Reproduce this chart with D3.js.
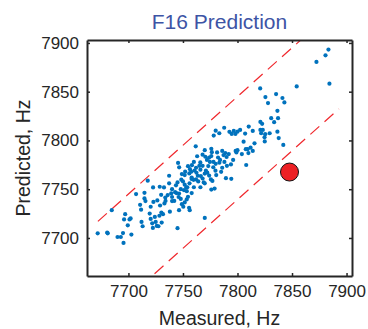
<!DOCTYPE html>
<html>
<head>
<meta charset="utf-8">
<script src="https://cdn.jsdelivr.net/npm/d3@7"></script>
<style>
  html, body { margin: 0; padding: 0; background: #fff; }
  svg { display: block; font-family: "Liberation Sans", Arial, sans-serif; }
</style>
</head>
<body>
<svg id="chart" width="368" height="329"></svg>
<script>
// Measured vs predicted frequency (Hz)
const measured = [
  7671.8, 7680.5, 7681, 7684.7, 7690, 7693, 7695.5, 7695, 7696, 7697,
  7699.4, 7701, 7702, 7702.7, 7707, 7710.7, 7711.6, 7712, 7713, 7714.7,
  7715.6, 7714.7, 7717.7, 7719.5, 7720.4, 7720.4, 7721.8, 7722.4, 7722.6, 7722.9,
  7724.2, 7725, 7726, 7727.5, 7728.4, 7728.7, 7730, 7726.5, 7729, 7730.2,
  7731.7, 7730.5, 7732.6, 7733.8, 7733, 7737.3, 7739.2, 7737.3, 7738, 7740,
  7740, 7742.8, 7743.6, 7745, 7746.4, 7746.4, 7748, 7745.5, 7746.5, 7745,
  7749, 7750.3, 7751.6, 7749, 7751.6, 7748.5, 7751.6, 7753, 7751, 7753.5,
  7755.6, 7756.2, 7753.4, 7754.6, 7754.6, 7756.4, 7758.2, 7757.9, 7759.7, 7755.8,
  7757.6, 7760.6, 7762.4, 7763.6, 7761.7, 7763, 7765.9, 7765, 7766.4, 7768,
  7769, 7770, 7768, 7770.5, 7771, 7772.3, 7773.2, 7774.7, 7774, 7775.6,
  7777, 7776, 7776.5, 7777.8, 7779.8, 7780.5, 7779, 7776, 7781.3, 7782.2,
  7783.4, 7785, 7786, 7787.2, 7788.8, 7789.4, 7794.3, 7790.3, 7794, 7798.3,
  7799, 7805.6, 7808, 7809.2, 7810, 7814, 7842, 7778.2, 7780, 7783.3,
  7787.8, 7792.6, 7794.7, 7796.6, 7798.1, 7800, 7802.4, 7807, 7810.3, 7814,
  7821, 7821.7, 7823.2, 7825.4, 7824.8, 7821, 7822.6, 7820.8, 7825.6, 7828,
  7830.9, 7833.6, 7835.4, 7837.2, 7836.6, 7836.6, 7841.2, 7843, 7854.3, 7872.4,
  7880.7, 7883.4, 7884.3, 7829.5, 7837.8, 7812, 7815.6, 7825, 7807.6, 7752,
  7758, 7762, 7766, 7770, 7774, 7778, 7780, 7784, 7788, 7790,
  7756, 7760, 7764, 7768, 7772, 7776, 7760, 7748, 7744, 7740,
  7736, 7734, 7742, 7746, 7750, 7754, 7758, 7762, 7766, 7770,
  7786, 7792, 7796, 7800, 7804, 7770
];
const predicted = [
  7704.8, 7705.5, 7704.8, 7728.5, 7701, 7701, 7694.9, 7705, 7719, 7724.4,
  7713, 7719, 7720, 7703.5, 7745, 7734, 7729, 7716.5, 7712, 7740.5,
  7737.8, 7746.3, 7758.7, 7725, 7719.5, 7732, 7715, 7710.3, 7751.8, 7737,
  7721.6, 7716.5, 7712.3, 7712, 7722.8, 7752.5, 7744.2, 7738.5, 7733.3, 7726,
  7724.4, 7715.8, 7751.8, 7741.5, 7735.4, 7756, 7745.7, 7763.8, 7727, 7742,
  7737.8, 7747, 7754, 7757, 7745.6, 7728.5, 7740, 7776.9, 7772.4, 7710,
  7734.7, 7732, 7736.4, 7765.5, 7764.5, 7759.8, 7754.6, 7752, 7749, 7748,
  7731, 7728.5, 7739.5, 7742.2, 7773.6, 7770.5, 7774.6, 7760.5, 7759.6, 7766.2,
  7767.9, 7769.1, 7766.9, 7763.8, 7794, 7783.8, 7777.5, 7774, 7763.5, 7761,
  7757, 7720.6, 7785.4, 7783.3, 7769, 7767, 7773.7, 7778, 7782.4, 7760,
  7758.5, 7791.4, 7788, 7772.5, 7769, 7764.5, 7750.6, 7749.6, 7787.7, 7782.5,
  7777.2, 7767.8, 7789.3, 7785, 7787, 7761.3, 7760.6, 7774, 7775.4, 7789.3,
  7787.7, 7798.7, 7774.8, 7791, 7787, 7789.3, 7795.4, 7805, 7810, 7807.4,
  7813, 7808.8, 7806.7, 7809.8, 7806.7, 7809, 7810.8, 7807, 7814.2, 7809.8,
  7810.8, 7807.4, 7810.8, 7806.4, 7803.3, 7819, 7817, 7853.3, 7844.5, 7838.3,
  7822.8, 7818.7, 7847.6, 7822.8, 7830.4, 7809, 7843.5, 7839, 7855.4, 7880.5,
  7887.3, 7893.2, 7858.2, 7807.4, 7802.4, 7792.6, 7797, 7799, 7791, 7768,
  7762, 7772, 7770, 7766, 7764, 7778, 7776, 7780, 7778, 7783,
  7756, 7752, 7758, 7774, 7780, 7784, 7778, 7750, 7746, 7750,
  7744, 7738, 7738, 7742, 7758, 7752, 7746, 7760, 7752, 7756,
  7772, 7786, 7780, 7790, 7786, 7790
];
const outlier = [7847.7, 7767.6];
const upperBand = [[7672, 7717], [7893, 7938]];
const lowerBand = [[7672, 7611.4], [7893, 7832.4]];
const xTicks = [7700, 7750, 7800, 7850, 7900];
const yTicks = [7700, 7750, 7800, 7850, 7900];
const xDomain = [7662, 7905];
const yDomain = [7661, 7903];

const svg = d3.select("#chart");
const mLeft = 87, mRight = 352, mTop = 40, mBottom = 276;
const ink = "#262626";

const x = d3.scaleLinear().domain(xDomain).range([mLeft, mRight]);
const y = d3.scaleLinear().domain(yDomain).range([mBottom, mTop]);

svg.append("defs").append("clipPath").attr("id", "plot-clip")
  .append("rect")
  .attr("x", mLeft).attr("y", mTop)
  .attr("width", mRight - mLeft).attr("height", mBottom - mTop);

// title
svg.append("text")
  .attr("x", (mLeft + mRight) / 2)
  .attr("y", 29)
  .attr("text-anchor", "middle")
  .attr("fill", "#3d54a5")
  .attr("font-size", "21px")
  .text("F16 Prediction");

const plot = svg.append("g").attr("clip-path", "url(#plot-clip)");

// prediction band (dashed)
const line = d3.line().x(d => x(d[0])).y(d => y(d[1]));
[upperBand, lowerBand].forEach(band => {
  plot.append("path")
    .attr("d", line(band))
    .attr("fill", "none")
    .attr("stroke", "#f0282d")
    .attr("stroke-width", 1.2)
    .attr("stroke-dasharray", "12,7");
});

// scatter
plot.append("g").selectAll("circle")
  .data(d3.zip(measured, predicted))
  .enter().append("circle")
  .attr("cx", d => x(d[0]))
  .attr("cy", d => y(d[1]))
  .attr("r", 2.1)
  .attr("fill", "#0072bd");

// outlier
plot.append("circle")
  .attr("cx", x(outlier[0]))
  .attr("cy", y(outlier[1]))
  .attr("r", 9)
  .attr("fill", "#ed2024")
  .attr("stroke", "#111")
  .attr("stroke-width", 1);

// axes, MATLAB style: inward ticks on all four sides
const tick = 3;
const fmt = d3.format("d");
const axBottom = svg.append("g")
  .attr("transform", `translate(0, ${mBottom})`)
  .call(d3.axisBottom(x).tickValues(xTicks).tickFormat(fmt).tickSizeInner(-tick).tickSizeOuter(0).tickPadding(9));
const axLeft = svg.append("g")
  .attr("transform", `translate(${mLeft}, 0)`)
  .call(d3.axisLeft(y).tickValues(yTicks).tickFormat(fmt).tickSizeInner(-tick).tickSizeOuter(0).tickPadding(8));
const axTop = svg.append("g")
  .attr("transform", `translate(0, ${mTop})`)
  .call(d3.axisTop(x).tickValues(xTicks).tickSizeInner(-tick).tickSizeOuter(0).tickFormat(""));
const axRight = svg.append("g")
  .attr("transform", `translate(${mRight}, 0)`)
  .call(d3.axisRight(y).tickValues(yTicks).tickSizeInner(-tick).tickSizeOuter(0).tickFormat(""));

[axBottom, axLeft, axTop, axRight].forEach(ax => {
  ax.select(".domain").attr("stroke", ink).attr("stroke-width", 2);
  ax.selectAll(".tick line").attr("stroke", ink).attr("stroke-width", 1.5);
  ax.selectAll(".tick text")
    .attr("fill", ink)
    .attr("font-size", "17px")
    .attr("font-family", "'Liberation Sans', Arial, sans-serif");
});

// axis labels
svg.append("text")
  .attr("x", (mLeft + mRight) / 2)
  .attr("y", 325)
  .attr("text-anchor", "middle")
  .attr("fill", ink)
  .attr("font-size", "19.5px")
  .text("Measured, Hz");

svg.append("text")
  .attr("transform", `translate(30, ${(mTop + mBottom) / 2}) rotate(-90)`)
  .attr("text-anchor", "middle")
  .attr("fill", ink)
  .attr("font-size", "19.5px")
  .text("Predicted, Hz");
</script>
</body>
</html>
